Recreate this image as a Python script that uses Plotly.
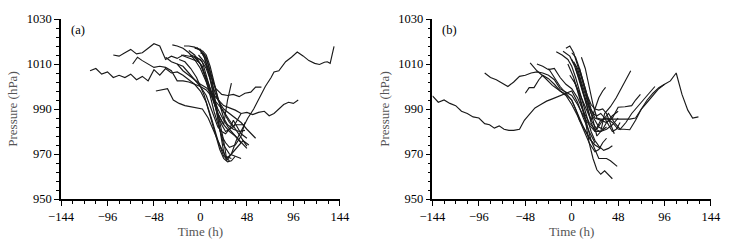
import plotly.graph_objects as go

# ---------------- data: panel (a) ----------------
A01_T = [-114,-108,-102,-96,-90,-84,-78,-72,-66,-60,-54,-48,-42,-36,-30,-24,-18,-12,-6,0,6,12,18,24,30]
A01_P = [1007,1008,1005.5,1006.5,1004,1005,1004,1005.5,1003,1004.5,1002.5,1007.5,1005,1008,1006,1006.5,1005,1003,1001,998,993,985,976,969,967]
A02_T = [-90,-84,-78,-72,-66,-60,-54,-48,-42,-36,-30,-24,-18,-12,-6,0,6,12,18,24,30,36,42]
A02_P = [1014,1013.5,1015,1016.5,1014.5,1015,1017,1019,1018,1012,1013.5,1012.5,1014,1013.5,1013,1010,1004,997,990,985,981,978,975]
A03_T = [-70,-65,-60,-54,-48,-42,-36,-30,-24,-18,-12,-6,0,6,12,18,24,30,36,42,48]
A03_P = [1010,1013,1011.5,1010,1008.5,1009,1008.5,1007,1002.5,1002.5,1002,1001,1000,998.5,995.5,992,989,985,981,977,973.5]
A04_T = [-46,-40,-34,-28,-22,-16,-10,-4,2,8,14,20,26,32]
A04_P = [998,998.5,999,994,992.5,991.5,991,990.5,990,986,980,974,969,968]
A05_T = [-6,0,6,12,18,24,27,32,37,43,49,55,61,67,73,76,81,88,94,100,106,112,118,123,128,131,134,138]
A05_P = [1017,1016.5,1013,1003,986,971,967,970,976,981,986,990,995,1000,1004,1006.5,1007,1011,1013,1015.3,1013.6,1011.5,1010.3,1009.8,1010.8,1011,1010.3,1017.8]
A06_T = [-24,-18,-12,-6,0,6,12,18,24,30,36,42,48,54,60,66,71,76,81,86,91,96,101]
A06_P = [1010,1009,1006,1003,1001,999.5,997,994,991.5,990.5,989.5,988,988.5,987.5,988.5,989,987,988,990,992,993,992.5,994]
A07_T = [-2,4,10,16,22,28,34,40,46,52,57,63]
A07_P = [1014,1011,1005,999,996.5,996,996.5,995.5,997,997.5,999.7,999.7]
A08_T = [-6,0,6,12,18,24,30,36,42,48,54,57]
A08_P = [1013,1012,1008,1001,994,990,988,986,984,981,978,977]
A09_T = [-12,-6,0,6,12,18,24,28,32]
A09_P = [1016,1014,1010,1003,996,988,983,994,1001.5]
A10_T = [-29,-24,-18,-12,-6,0,6,12,18,24,30,36,42,48]
A10_P = [1018.5,1018,1017,1015,1012,1008,1002,995,988,983,980,978,975,972.5]
A11_T = [-17,-12,-6,0,4,8,12,16,20,24,30,36,42]
A11_P = [1018,1018,1017.5,1016,1013,1007,999,990,981,974,970,969,968]
A12_T = [-4,0,4,8,12,16,20,24,27,32,38,44,50]
A12_P = [1017.5,1016,1013,1008,1000,992,984,976,968,970,973,976,974]
A13_T = [-20,-14,-8,-2,2,6,10,14,18,22,26,30,36,42,46]
A13_P = [1014,1013,1012,1011,1009,1003,996,989,983,978,975,973,974,978,984]
A14_T = [-10,-4,2,6,10,14,18,22,26,30,34,38,42,48]
A14_P = [1014,1013,1011,1005,998,992,987,983,980,981,985,982,979,977]
A15_T = [-36,-30,-24,-18,-12,-6,0,6,12,18,22,26,30,36,42,46]
A15_P = [1013,1011,1010,1007,1005,1003,1000,996,989,982,980,979,981,983,983,983]
A16_T = [-22,-16,-10,-4,0,4,8,12,16,20,24,28,32,36]
A16_P = [1012,1011,1008,1004,1000,996,990,984,978,972,968,966.5,967,969]
A17_T = [0,4,8,12,16,20,24,28,34,40,46]
A17_P = [1015,1014,1010,1004,997,991,986,983,981,980,980.5]
A18_T = [2,6,10,14,18,22,26,30,34,38,42]
A18_P = [1016,1014,1009,1002,995,990,987,984,982,985,988]

# ---------------- data: panel (b) ----------------
B01_T = [-144,-138,-132,-126,-120,-114,-108,-102,-96,-90,-85,-80,-75,-70,-65,-60,-54,-49,-44,-38,-32,-26,-20,-14,-8,-4,0,6,12,18,24]
B01_P = [995.8,993,994,992.5,991.5,989,988,986.5,986,983.5,983,981.5,982.5,981,980.5,980.5,981,985,987.5,990.5,992,993.5,994.5,995.5,996.5,997.5,998,993,986,980,975]
B02_T = [-90,-84,-78,-72,-66,-60,-54,-48,-42,-36,-30,-24,-18,-12,-6,0,6,12,18,24,30,36]
B02_P = [1006,1004,1003,1001.5,1000,1002,1004.5,1005,1006,1006.5,1006,1005,1003,999,997.5,996,992,987,983,980,980,982]
B03_T = [-48,-44,-39,-34,-30,-24,-18,-12,-6,0,6,12,18,24,30]
B03_P = [997,999.5,999.5,1003,1005,1003.5,1001,998,996.5,994,988,982,977,974,972.5]
B04_T = [-43,-36,-28,-20,-12,-6,0,6,12,18,24,28,32,36]
B04_P = [1010.5,1007,1004,1000.5,998,996,992,987,981,975,971,972,975,977]
B05_T = [-36,-30,-24,-18,-12,-6,0,6,12,18,24,30,36,42,48]
B05_P = [1010,1009,1007.5,1008,1004,1001,999,995,989,984,981,980,981,983,986]
B06_T = [-9,-2,3,8,12,16,20,24,28,32,36,42,48]
B06_P = [1015.7,1013.5,1009,1003,997,992,988,985,982,981,984,987,989]
B07_T = [-6,-2,2,6,10,14,18,22,26,30,34,40,46,52,56,61]
B07_P = [1017,1018,1015,1010,1004,998,992,985,978,980,988,991,995,1000,1003,1007]
B08_T = [0,4,8,12,16,20,24,30,36,42,48,54,60,66,72,78,84,90,96,102,108,114,120,125,131]
B08_P = [1012,1009,1004,998,991,984,980,985,986,984,981,981,980.8,985,990,993,996,999,1001,1002.5,1006,996.5,989.5,986,986.5]
B09_T = [10,14,18,22,26,30,36,42,48,54,60,66,72,78,84,90,96]
B09_P = [1013,1008,1000,992,986,985.5,985.5,985.5,985.5,985.5,985.5,986,990,994,997,999.5,1001]
B10_T = [4,8,12,16,20,26,32,38,44,50,56,62,68,74,80,86]
B10_P = [1008,1002,996,990,985,981,985,988,984,981,984,988,991,994,997,1000]
B11_T = [-2,4,10,16,20,24,28,32,35]
B11_P = [1005,1001,995,989,985,990,995,998,999.6]
B12_T = [-4,2,8,14,18,22,26,30,34,38,42]
B12_P = [1010,1004,995,985,975,968,963,961,962.5,960.5,959]
B13_T = [2,8,14,20,24,28,32,36,40,44,47]
B13_P = [1003,996,986,976,972,968,968,968,967,965.5,964.5]
B14_T = [-16,-10,-4,0,4,8,12,16,20,24,28,33,38,42]
B14_P = [1015.5,1014,1012,1009,1004,998,991,985,980,976,973.5,971.6,972.5,973.7]
B15_T = [0,4,8,12,16,20,24,28,32,36,40,44]
B15_P = [1015,1013,1008,1002,996,992,990,989.5,990,988,983,979]
B16_T = [2,6,10,14,18,22,26,30,34,38,42,46,50]
B16_P = [1011,1008,1002,996,991,988,987,988,986,983,980,981,984]
B17_T = [8,12,16,20,24,30,36,42,48,55,62,66,71]
B17_P = [1008,1002,995,990,986,985,984,986,990.8,991,991.5,994,996.5]
B18_T = [-24,-18,-12,-6,0,4,8,12,16,20,24]
B18_P = [1008,1004,1000,997,994,990,985,982,979,976,974]

PANEL_A = [(A01_T, A01_P), (A02_T, A02_P), (A03_T, A03_P), (A04_T, A04_P), (A05_T, A05_P),
           (A06_T, A06_P), (A07_T, A07_P), (A08_T, A08_P), (A09_T, A09_P), (A10_T, A10_P),
           (A11_T, A11_P), (A12_T, A12_P), (A13_T, A13_P), (A14_T, A14_P), (A15_T, A15_P),
           (A16_T, A16_P), (A17_T, A17_P), (A18_T, A18_P)]
PANEL_B = [(B01_T, B01_P), (B02_T, B02_P), (B03_T, B03_P), (B04_T, B04_P), (B05_T, B05_P),
           (B06_T, B06_P), (B07_T, B07_P), (B08_T, B08_P), (B09_T, B09_P), (B10_T, B10_P),
           (B11_T, B11_P), (B12_T, B12_P), (B13_T, B13_P), (B14_T, B14_P), (B15_T, B15_P),
           (B16_T, B16_P), (B17_T, B17_P), (B18_T, B18_P)]

X_TICKS = [-144, -96, -48, 0, 48, 96, 144]
Y_TICKS = [950, 970, 990, 1010, 1030]
X_TITLE = "Time (h)"
Y_TITLE = "Pressure (hPa)"
PANEL_LABELS = ["(a)", "(b)"]

FONT = "Liberation Serif"
LINE = dict(color="#1a1a1a", width=1.15)

fig = go.Figure()
for t, p in PANEL_A:
    fig.add_trace(go.Scatter(x=t, y=p, mode="lines", line=LINE, xaxis="x", yaxis="y",
                             showlegend=False, hoverinfo="skip"))
for t, p in PANEL_B:
    fig.add_trace(go.Scatter(x=t, y=p, mode="lines", line=LINE, xaxis="x2", yaxis="y2",
                             showlegend=False, hoverinfo="skip"))

def xax(domain, anchor):
    return dict(domain=domain, anchor=anchor, range=[-144, 144], tickvals=X_TICKS,
                ticks="outside", ticklen=5, tickwidth=1.3, tickcolor="black",
                minor=dict(dtick=12, tick0=0, ticks="outside", ticklen=3, tickwidth=1.2, tickcolor="black"),
                showline=True, linecolor="black", linewidth=1.5, showgrid=False, zeroline=False,
                tickfont=dict(family=FONT, size=12.5, color="black"),
                title=dict(text=X_TITLE, font=dict(family=FONT, size=13, color="#555555"), standoff=1))

def yax(domain, anchor):
    return dict(domain=domain, anchor=anchor, range=[950, 1030], tickvals=Y_TICKS,
                ticks="outside", ticklen=5, tickwidth=1.3, tickcolor="black",
                minor=dict(dtick=4, tick0=950, ticks="outside", ticklen=3, tickwidth=1.2, tickcolor="black"),
                showline=True, linecolor="black", linewidth=1.5, showgrid=False, zeroline=False,
                tickfont=dict(family=FONT, size=12.5, color="black"),
                title=dict(text=Y_TITLE, font=dict(family=FONT, size=13, color="#555555"), standoff=6))

fig.update_layout(
    width=733, height=246,
    margin=dict(l=55, r=16, t=15, b=43),
    paper_bgcolor="white", plot_bgcolor="white",
    xaxis=xax([0, 0.429], "y"),
    yaxis=yax([0, 1], "x"),
    xaxis2=xax([0.5715, 1], "y2"),
    yaxis2=yax([0, 1], "x2"),
    annotations=[
        dict(text=PANEL_LABELS[0], xref="x", yref="y", x=-136, y=1025, showarrow=False,
             xanchor="left", yanchor="middle", font=dict(family=FONT, size=12.5, color="black")),
        dict(text=PANEL_LABELS[1], xref="x2", yref="y2", x=-136, y=1025, showarrow=False,
             xanchor="left", yanchor="middle", font=dict(family=FONT, size=12.5, color="black")),
    ],
)

fig.write_html("out.html", config={"displayModeBar": False},
               post_script="document.body.style.margin='0px';")
